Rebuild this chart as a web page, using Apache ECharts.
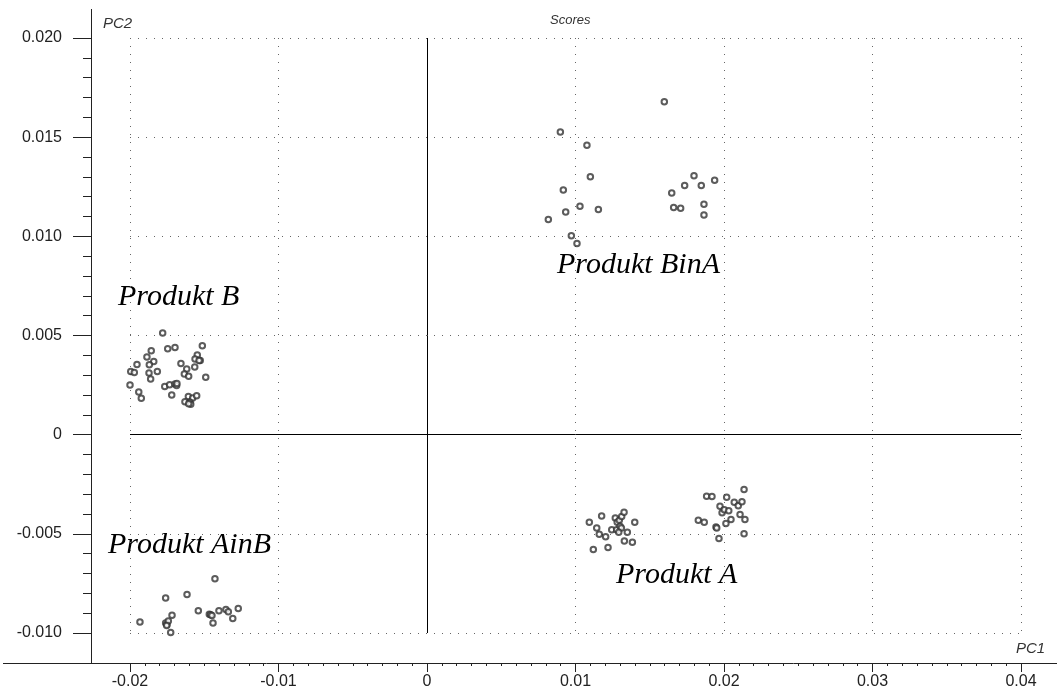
<!DOCTYPE html>
<html>
<head>
<meta charset="utf-8">
<script src="https://cdn.jsdelivr.net/npm/echarts@6/dist/echarts.min.js"></script>
<style>
  html, body { margin: 0; padding: 0; background: #fff; }
  #chart { width: 1057px; height: 690px; }
</style>
</head>
<body>
<div id="chart"></div>
<script>
// PCA score plot: PC1 vs PC2 for four product groups
const xTicks = [-0.02, -0.01, 0, 0.01, 0.02, 0.03, 0.04];
const yTicks = [-0.010, -0.005, 0, 0.005, 0.010, 0.015, 0.020];

const produktB = [
  [-0.01780, 0.00512], [-0.01513, 0.00448], [-0.01746, 0.00433], [-0.01697, 0.00440],
  [-0.01857, 0.00423], [-0.01886, 0.00391], [-0.01547, 0.00402], [-0.01562, 0.00381],
  [-0.01527, 0.00374], [-0.01535, 0.00374], [-0.01840, 0.00369], [-0.01870, 0.00353],
  [-0.01953, 0.00354], [-0.01657, 0.00359], [-0.01564, 0.00341], [-0.01618, 0.00331],
  [-0.01995, 0.00319], [-0.01971, 0.00314], [-0.01816, 0.00319], [-0.01872, 0.00311],
  [-0.01634, 0.00306], [-0.01605, 0.00294], [-0.02065, 0.00297], [-0.01861, 0.00281],
  [-0.01490, 0.00289], [-0.02086, 0.00243], [-0.02005, 0.00248], [-0.02000, 0.00250],
  [-0.01766, 0.00243], [-0.01733, 0.00252], [-0.01697, 0.00255], [-0.01686, 0.00248],
  [-0.01684, 0.00258], [-0.01941, 0.00215], [-0.02141, 0.00203], [-0.02110, 0.00200],
  [-0.01719, 0.00200], [-0.01924, 0.00183], [-0.02106, 0.00166], [-0.01607, 0.00193],
  [-0.01578, 0.00185], [-0.01551, 0.00196], [-0.01630, 0.00166], [-0.01596, 0.00163],
  [-0.01591, 0.00153], [-0.01605, 0.00156], [-0.02061, 0.00141], [-0.02101, 0.00099]
];

const produktAinB = [
  [-0.01428, -0.00727], [-0.01760, -0.00823], [-0.01616, -0.00806], [-0.01933, -0.00944],
  [-0.01760, -0.00949], [-0.01751, -0.00957], [-0.01742, -0.00940], [-0.01717, -0.00910],
  [-0.01753, -0.00962], [-0.01726, -0.00997], [-0.01540, -0.00888], [-0.01466, -0.00905],
  [-0.01457, -0.00908], [-0.01448, -0.00912], [-0.01441, -0.00949], [-0.01401, -0.00888],
  [-0.01354, -0.00882], [-0.01338, -0.00893], [-0.01308, -0.00927], [-0.01271, -0.00877]
];

const produktBinA = [
  [0.01598, 0.01679], [0.00898, 0.01526], [0.01077, 0.01459], [0.01100, 0.01300],
  [0.00918, 0.01234], [0.01030, 0.01152], [0.01154, 0.01135], [0.00934, 0.01123],
  [0.00817, 0.01085], [0.00972, 0.01003], [0.01010, 0.00964], [0.01648, 0.01218],
  [0.01661, 0.01145], [0.01708, 0.01142], [0.01735, 0.01256], [0.01798, 0.01305],
  [0.01847, 0.01256], [0.01937, 0.01283], [0.01865, 0.01162], [0.01865, 0.01107]
];

const produktA = [
  [0.01093, -0.00442], [0.01176, -0.00410], [0.01143, -0.00470], [0.01160, -0.00502],
  [0.01203, -0.00515], [0.01120, -0.00579], [0.01219, -0.00569], [0.01244, -0.00480],
  [0.01268, -0.00420], [0.01281, -0.00442], [0.01295, -0.00432], [0.01311, -0.00412],
  [0.01327, -0.00391], [0.01277, -0.00479], [0.01300, -0.00462], [0.01309, -0.00470],
  [0.01291, -0.00492], [0.01349, -0.00492], [0.01329, -0.00536], [0.01383, -0.00543],
  [0.01399, -0.00442],
  [0.01827, -0.00432], [0.01867, -0.00442], [0.01883, -0.00311], [0.01946, -0.00465],
  [0.01951, -0.00470], [0.01966, -0.00524], [0.01973, -0.00361], [0.01987, -0.00394],
  [0.02002, -0.00378], [0.02018, -0.00316], [0.02032, -0.00383], [0.02069, -0.00341],
  [0.02096, -0.00358], [0.02121, -0.00338], [0.02135, -0.00277], [0.02108, -0.00403],
  [0.02141, -0.00428], [0.02135, -0.00499], [0.02047, -0.00428], [0.02013, -0.00448],
  [0.01919, -0.00312]
];

const groupLabels = ['Produkt B', 'Produkt AinB', 'Produkt BinA', 'Produkt A'];

const axisColor = '#222';
const dotted = { color: '#666', width: 1, type: [1, 7] };
const tickFont = { fontFamily: 'Liberation Sans, Arial, sans-serif', fontSize: 16, color: '#222' };

function fmt(v, d) {
  if (Math.abs(v) < 1e-12) return '0';
  return (Math.round(v * 1e6) / 1e6).toFixed(d);
}

function scatter(name, data) {
  return {
    name: name,
    type: 'scatter',
    data: data,
    symbol: 'emptyCircle',
    symbolSize: 5.5,
    itemStyle: { color: '#333', borderColor: '#333', borderWidth: 1 },
    silent: true,
    z: 5
  };
}

const chart = echarts.init(document.getElementById('chart'), null, { renderer: 'canvas' });

const labelFont = 'italic 30px "Liberation Serif", "Times New Roman", serif';

chart.setOption({
  animation: false,
  backgroundColor: '#fff',
  grid: { left: 130, right: 36, top: 38, bottom: 57 },
  xAxis: {
    type: 'value',
    min: xTicks[0],
    max: xTicks[xTicks.length - 1],
    interval: 0.01,
    offset: 30,
    axisLine: { show: false, onZero: false },
    axisTick: { show: true, inside: false, length: 9, lineStyle: { color: axisColor } },
    minorTick: { show: true, splitNumber: 10, length: 3, lineStyle: { color: axisColor } },
    axisLabel: Object.assign({ margin: 11, formatter: v => fmt(v, 2) }, tickFont),
    splitLine: { show: true, lineStyle: dotted }
  },
  yAxis: {
    type: 'value',
    min: yTicks[0],
    max: yTicks[yTicks.length - 1],
    interval: 0.005,
    offset: 39,
    axisLine: { show: false, onZero: false },
    axisTick: { show: true, inside: false, length: 18, lineStyle: { color: axisColor } },
    minorTick: { show: true, splitNumber: 5, length: 8, lineStyle: { color: axisColor } },
    axisLabel: Object.assign({ margin: 29, formatter: v => fmt(v, 3) }, tickFont),
    splitLine: { show: true, lineStyle: dotted }
  },
  series: [
    Object.assign(scatter(groupLabels[0], produktB), {
      markLine: {
        silent: true,
        symbol: 'none',
        label: { show: false },
        lineStyle: { color: '#000', width: 1, type: 'solid' },
        data: [{ xAxis: 0 }, { yAxis: 0 }]
      }
    }),
    scatter(groupLabels[1], produktAinB),
    scatter(groupLabels[2], produktBinA),
    scatter(groupLabels[3], produktA)
  ],
  graphic: [
    // axis lines drawn past the plot area
    { type: 'line', shape: { x1: 91.5, y1: 9, x2: 91.5, y2: 663 }, style: { stroke: axisColor, lineWidth: 1 }, silent: true },
    { type: 'line', shape: { x1: 3, y1: 663.5, x2: 1057, y2: 663.5 }, style: { stroke: axisColor, lineWidth: 1 }, silent: true },
    // axis titles and chart title
    { type: 'text', left: 103, top: 16, style: { text: 'PC2', font: 'italic 15px "Liberation Sans", Arial, sans-serif', fill: '#333' } },
    { type: 'text', left: 1016, top: 641, style: { text: 'PC1', font: 'italic 15px "Liberation Sans", Arial, sans-serif', fill: '#333' } },
    { type: 'text', left: 550, top: 14, style: { text: 'Scores', font: 'italic 13px "Liberation Sans", Arial, sans-serif', fill: '#333' } },
    // group annotations
    { type: 'text', left: 118, top: 282, style: { text: groupLabels[0], font: labelFont, fill: '#000' } },
    { type: 'text', left: 108, top: 530, style: { text: groupLabels[1], font: labelFont, fill: '#000' } },
    { type: 'text', left: 557, top: 250, style: { text: groupLabels[2], font: labelFont, fill: '#000' } },
    { type: 'text', left: 616, top: 560, style: { text: groupLabels[3], font: labelFont, fill: '#000' } }
  ]
});
</script>
</body>
</html>
